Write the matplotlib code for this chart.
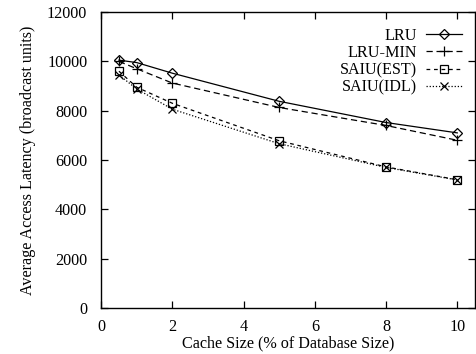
import matplotlib
matplotlib.use("Agg")
import matplotlib.pyplot as plt

plt.rcParams['font.family'] = ['Liberation Serif', 'DejaVu Serif']
plt.rcParams['font.size'] = 11.6

# cache size (% of database size)
cache_size = [0.5, 1, 2, 5, 8, 10]

lru = [10050, 9950, 9520, 8380, 7520, 7100]
lru_min = [10000, 9700, 9120, 8130, 7400, 6800]
saiu_est = [9600, 8950, 8300, 6780, 5720, 5200]
saiu_idl = [9450, 8880, 8060, 6660, 5700, 5190]

labels = ['LRU', 'LRU-MIN', 'SAIU(EST)', 'SAIU(IDL)']
markers = ['D', '+', 's', 'x']
sizes = [5, 7, 6, 6]
styles = ['-', (0, (5, 3)), (0, (3, 3)), (0, (1, 1.5))]

fig = plt.figure(figsize=(4.77, 3.54), dpi=100)
ax = fig.add_axes([0.212, 0.13, 0.784, 0.836])

for ys, lab, mk, ms, ls in zip([lru, lru_min, saiu_est, saiu_idl], labels, markers, sizes, styles):
    ax.plot(cache_size, ys, color='black', linestyle=ls, linewidth=0.9,
            marker=mk, markersize=ms, markerfacecolor='none',
            markeredgecolor='black', markeredgewidth=0.9, label=lab)

ax.set_xlim(0, 10.5)
ax.set_ylim(0, 12000)
ax.set_xticks([0, 2, 4, 6, 8, 10])
ax.set_yticks(range(0, 12001, 2000))
ax.tick_params(direction='in', top=True, right=True, length=5, width=0.9)
ax.tick_params(axis='y', pad=10)
ax.tick_params(axis='x', pad=8)
for s in ax.spines.values():
    s.set_linewidth(1.0)

ax.set_xlabel('Cache Size (% of Database Size)', labelpad=0)
ax.set_ylabel('Average Access Latency (broadcast units)', labelpad=8)

ax.legend(loc='upper right', frameon=False, markerfirst=False,
          handlelength=2.2, labelspacing=0.08, handletextpad=0.6,
          borderaxespad=0.3, borderpad=0.4, fontsize=11.6,
          bbox_to_anchor=(0.995, 0.985))

fig.savefig('out.png', dpi=100)
